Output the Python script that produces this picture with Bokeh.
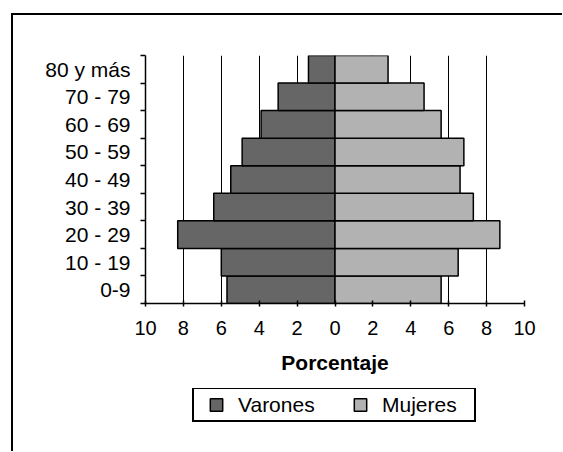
from bokeh.plotting import figure
from bokeh.layouts import column
from bokeh.models import Range1d, FixedTicker, Legend, LegendItem, ColumnDataSource
from bokeh.embed import file_html
from bokeh.resources import INLINE

# ---- data ----
grupos = ["0-9", "10 - 19", "20 - 29", "30 - 39", "40 - 49",
          "50 - 59", "60 - 69", "70 - 79", "80 y más"]
varones = [5.7, 6.0, 8.3, 6.4, 5.5, 4.9, 3.9, 3.0, 1.4]
mujeres = [5.6, 6.5, 8.7, 7.3, 6.6, 6.8, 5.6, 4.7, 2.8]
x_ticks = [-10, -8, -6, -4, -2, 0, 2, 4, 6, 8, 10]
grid_ticks = [-8, -6, -4, -2, 2, 4, 6, 8]
series_names = ["Varones", "Mujeres"]

FONT = "Liberation Sans"
DARK = "#666666"
LIGHT = "#b2b2b2"
NAN = float("nan")

ypos = [i + 0.5 for i in range(len(grupos))]
src = ColumnDataSource(dict(
    y=ypos,
    v_left=[-v for v in varones],
    zero=[0] * len(grupos),
    m_right=mujeres,
))

# ---- main chart ----
p = figure(width=549, height=373, output_backend="svg", toolbar_location=None,
           x_range=Range1d(-10, 10), y_range=Range1d(0, len(grupos)),
           min_border_left=132, min_border_right=38, min_border_top=40,
           min_border_bottom=85)
p.margin = 0
p.outline_line_color = None
p.background_fill_color = "white"
p.border_fill_color = "white"

p.hbar(y="y", left="v_left", right="zero", height=1.0, source=src,
       fill_color=DARK, line_color="black", line_width=1.5)
p.hbar(y="y", left="zero", right="m_right", height=1.0, source=src,
       fill_color=LIGHT, line_color="black", line_width=1.5)

p.ygrid.visible = False
p.xgrid.ticker = FixedTicker(ticks=grid_ticks)
p.xgrid.grid_line_color = "black"
p.xgrid.grid_line_width = 1
p.xgrid.level = "underlay"

xa = p.xaxis[0]
xa.ticker = FixedTicker(ticks=x_ticks, minor_ticks=[])
xa.major_label_overrides = {t: str(abs(t)) for t in x_ticks}
xa.axis_line_color = "black"
xa.axis_line_width = 1.5
xa.major_tick_line_color = "black"
xa.major_tick_line_width = 1.5
xa.major_tick_in = 3
xa.major_tick_out = 3
xa.major_label_standoff = 14
xa.major_label_text_font = FONT
xa.major_label_text_font_size = "20px"
xa.major_label_text_color = "black"
xa.axis_label = "Porcentaje"
xa.axis_label_text_font = FONT
xa.axis_label_text_font_size = "21px"
xa.axis_label_text_font_style = "bold"
xa.axis_label_text_color = "black"
xa.axis_label_standoff = 13

ya = p.yaxis[0]
ya.ticker = FixedTicker(ticks=ypos, minor_ticks=list(range(len(grupos) + 1)))
ya.major_label_overrides = {y: g for y, g in zip(ypos, grupos)}
ya.axis_line_color = "black"
ya.axis_line_width = 1.5
ya.major_tick_line_color = None
ya.major_tick_in = 0
ya.major_tick_out = 0
ya.minor_tick_line_color = "black"
ya.minor_tick_line_width = 1.5
ya.minor_tick_in = 0
ya.minor_tick_out = 5
ya.major_label_standoff = 10
ya.major_label_text_font = FONT
ya.major_label_text_font_size = "21px"
ya.major_label_text_color = "black"

# ---- legend strip ----
p2 = figure(width=549, height=63, output_backend="svg", toolbar_location=None,
            x_range=Range1d(0, 1), y_range=Range1d(0, 1),
            x_axis_type=None, y_axis_type=None,
            min_border=0, min_border_left=0, min_border_right=0,
            min_border_top=0, min_border_bottom=0)
p2.margin = 0
p2.outline_line_color = None
p2.background_fill_color = "white"
p2.border_fill_color = "white"
lg_v = p2.scatter(x=[NAN], y=[NAN], marker="square", fill_color=DARK,
                  line_color="black", line_width=1.5)
lg_m = p2.scatter(x=[NAN], y=[NAN], marker="square", fill_color=LIGHT,
                  line_color="black", line_width=1.5)

legend = Legend(items=[LegendItem(label=series_names[0], renderers=[lg_v]),
                       LegendItem(label=series_names[1], renderers=[lg_m])],
                orientation="horizontal", location=(47, 29),
                label_text_font=FONT, label_text_font_size="21px",
                label_text_color="black",
                glyph_width=44, glyph_height=31, label_standoff=0,
                label_width=92, spacing=8, padding=0, margin=0,
                border_line_color="black", border_line_width=2,
                border_line_alpha=1.0,
                background_fill_color="white", background_fill_alpha=1)
p2.add_layout(legend, "center")

layout = column(p, p2, spacing=0)
layout.margin = (13, 0, 0, 11)
layout.styles = {"border-top": "2px solid black", "border-left": "2px solid black"}

open("out.html", "w").write(file_html(layout, INLINE))
